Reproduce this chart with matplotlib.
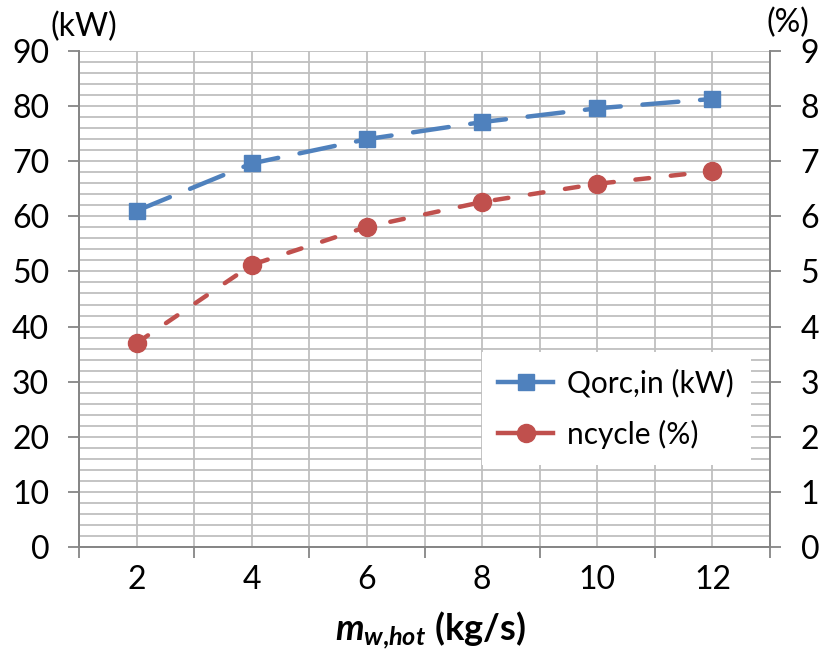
import matplotlib
matplotlib.use("Agg")
import matplotlib.pyplot as plt
from matplotlib.ticker import MultipleLocator, FixedLocator, NullFormatter

x_vals = [2, 4, 6, 8, 10, 12]
q_orc = [61.0, 69.6, 74.0, 77.1, 79.6, 81.3]
n_cycle = [3.70, 5.12, 5.81, 6.26, 6.59, 6.82]
x_tick_labels = ["2", "4", "6", "8", "10", "12"]

plt.rcParams['font.family'] = ['Lato', 'DejaVu Sans']
plt.rcParams['mathtext.fontset'] = 'custom'
plt.rcParams['mathtext.it'] = 'Lato:bold:italic'
plt.rcParams['mathtext.rm'] = 'Lato:bold'
plt.rcParams['mathtext.bf'] = 'Lato:bold'

FS = 23

fig = plt.figure(figsize=(8.21, 6.55), dpi=100)
ax = fig.add_axes([79/821, 108/655, (770-79)/821, (547-51)/655])
ax2 = ax.twinx()

grid_c = '#BFBFBF'
spine_c = '#868686'
blue = '#4F81BD'
red = '#C0504D'

ax.set_xlim(1, 13)
ax.set_ylim(0, 90)
ax2.set_ylim(0, 9)

ax.yaxis.set_major_locator(MultipleLocator(10))
ax.yaxis.set_minor_locator(MultipleLocator(2))
ax.xaxis.set_major_locator(FixedLocator([1, 3, 5, 7, 9, 11, 13]))
ax.xaxis.set_minor_locator(FixedLocator(x_vals))
ax.xaxis.set_major_formatter(NullFormatter())
ax.xaxis.set_minor_formatter(NullFormatter())
ax.grid(True, which='both', axis='both', color=grid_c, lw=1.3, zorder=0)
ax.set_axisbelow(True)

for x, lab in zip(x_vals, x_tick_labels):
    ax.text(x, -0.067, lab, transform=ax.get_xaxis_transform(), ha='center', va='center', fontsize=FS)

ax.tick_params(axis='x', which='major', length=8, color=spine_c, width=1.3, direction='out')
ax.tick_params(axis='x', which='minor', length=0)
ax.tick_params(axis='y', which='major', length=8, color=spine_c, width=1.3, labelsize=FS, pad=13.5)
ax.tick_params(axis='y', which='minor', length=0)
ax2.yaxis.set_major_locator(MultipleLocator(1))
ax2.tick_params(axis='y', which='major', length=8, color=spine_c, width=1.3, labelsize=FS, pad=14)

for a in (ax, ax2):
    for s in a.spines.values():
        s.set_color(spine_c)
        s.set_linewidth(1.3)
    a.spines['top'].set_visible(False)

l1, = ax.plot(x_vals, q_orc, color=blue, lw=3.2, dashes=(8.1, 4.9), dash_capstyle='round',
              marker='s', markersize=12,
              markerfacecolor=blue, markeredgecolor=blue, label='Qorc,in (kW)', zorder=3, clip_on=False)
l2, = ax2.plot(x_vals, n_cycle, color=red, lw=3.2, dashes=(3.1, 4.9), dash_capstyle='round',
               marker='o', markersize=13,
               markerfacecolor=red, markeredgecolor=red, label='ncycle (%)', zorder=3, clip_on=False)

leg = ax2.legend(handles=[l1, l2], loc='upper left', bbox_to_anchor=((482-79)/691, (547-352)/496),
                 frameon=True, fancybox=False, edgecolor='none', facecolor='white', framealpha=1,
                 fontsize=21.5, handlelength=1.84, handletextpad=0.47, labelspacing=0.75, borderaxespad=0,
                 borderpad=0.55)
for h in leg.legend_handles:
    h.set_linestyle('-')

fig.text(50/821, 1-27/655, '(kW)', fontsize=FS, ha='left', va='center')
fig.text(766/821, 1-23/655, '(%)', fontsize=FS, ha='left', va='center')
fig.text(430/821, 1-630/655, r'$m_{w{,}hot}$ (kg/s)', fontsize=26, fontweight='bold', ha='center', va='center')

fig.savefig('out.png', dpi=100)
